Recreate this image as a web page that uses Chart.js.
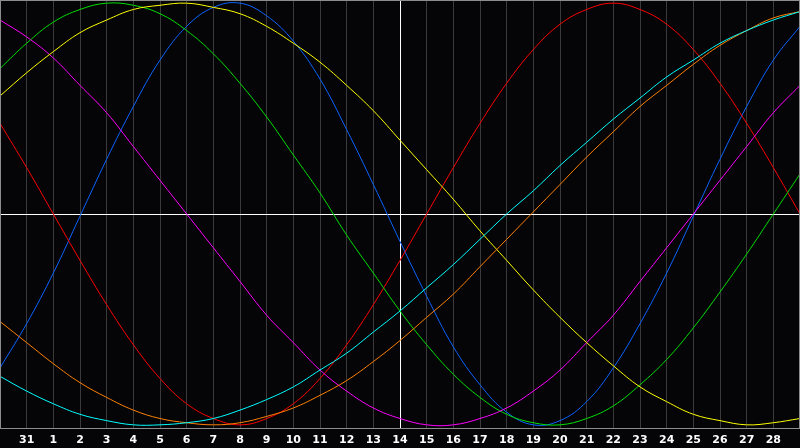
<!DOCTYPE html>
<html>
<head>
<meta charset="utf-8">
<style>
  html, body { margin: 0; padding: 0; background: #050508; }
  canvas { display: block; }
</style>
<script src="https://cdn.jsdelivr.net/npm/chart.js@4"></script>
</head>
<body>
<canvas id="bio" width="800" height="448"></canvas>
<script>
// days shown along the bottom (first and last sit on the frame edges)
const days = ['30', '31', '1', '2', '3', '4', '5', '6', '7', '8', '9', '10', '11', '12', '13', '14',
              '15', '16', '17', '18', '19', '20', '21', '22', '23', '24', '25', '26', '27', '28', '29'];

// cycle values in percent, one per day
const physical = [-73, -52, -28, -1, 26, 51, 73, 89, 98, 100, 94, 82, 64, 40, 14, -13,
                  -39, -63, -81, -94, -100, -98, -89, -73, -52, -28, -1, 26, 51, 73, 89];
const emotional = [43, 22, 0, -22, -43, -62, -78, -90, -97, -100, -97, -90, -78, -62, -43, -22,
                   0, 22, 43, 62, 78, 90, 97, 100, 97, 90, 78, 62, 43, 22, 0];
const intellectual = [69, 81, 91, 97, 100, 99, 95, 87, 76, 62, 46, 28, 10, -10, -28, -46,
                      -62, -76, -87, -95, -99, -100, -97, -91, -81, -69, -54, -37, -19, 0, 19];
const intuitive = [92, 84, 74, 61, 48, 32, 16, 0, -16, -32, -48, -61, -74, -84, -92, -97,
                   -100, -100, -97, -92, -84, -74, -61, -48, -32, -16, 0, 16, 32, 48, 61];
const aesthetic = [56, 67, 77, 86, 92, 97, 99, 100, 98, 95, 89, 81, 72, 61, 49, 35,
                   21, 7, -8, -22, -36, -49, -61, -72, -82, -89, -95, -98, -100, -99, -97];
const awareness = [-51, -61, -71, -80, -87, -93, -97, -99, -100, -99, -96, -92, -86, -79, -70, -60,
                   -49, -38, -25, -12, 1, 14, 27, 39, 51, 61, 71, 80, 87, 93, 96];
const spiritual = [-77, -84, -90, -95, -98, -100, -100, -99, -97, -93, -88, -82, -74, -66, -56, -46,
                   -35, -24, -12, 0, 11, 23, 34, 45, 55, 65, 73, 81, 87, 92, 96];

const todayIndex = 15;

document.addEventListener('DOMContentLoaded', function() {
    const ctx = document.getElementById('bio').getContext('2d');

    // first listed is drawn on top, so keep the long cycles last
    const series = [
        { data: spiritual, color: '#00ffff' },
        { data: awareness, color: '#ff8000' },
        { data: aesthetic, color: '#ffff00' },
        { data: intuitive, color: '#ff00ff' },
        { data: intellectual, color: '#00e000' },
        { data: emotional, color: '#ff0000' },
        { data: physical, color: '#0a64ff' }
    ];

    const frame = {
        id: 'frame',
        afterDraw(chart) {
            const a = chart.chartArea;
            const c = chart.ctx;
            c.save();
            c.strokeStyle = '#8c8c8c';
            c.lineWidth = 1;
            c.strokeRect(a.left + 0.5, a.top + 0.5, a.right - a.left - 1, a.bottom - a.top);
            c.restore();
        }
    };

    new Chart(ctx, {
        type: 'line',
        data: {
            labels: days,
            datasets: series.map(s => ({
                data: s.data,
                borderColor: s.color,
                borderWidth: 1,
                pointRadius: 0,
                fill: false,
                tension: 0.4
            }))
        },
        options: {
            responsive: false,
            animation: false,
            layout: { padding: 0 },
            plugins: { legend: { display: false }, tooltip: { enabled: false } },
            scales: {
                x: {
                    offset: false,
                    afterFit: axis => {
                        axis.height = 20;
                        axis.paddingLeft = 0;
                        axis.paddingRight = 0;
                    },
                    grid: {
                        drawTicks: false,
                        color: c => c.index === todayIndex ? '#ffffff' : '#3a3a3a'
                    },
                    border: { display: false },
                    ticks: {
                        autoSkip: false,
                        maxRotation: 0,
                        padding: 6,
                        color: '#ffffff',
                        font: { family: 'DejaVu Sans', size: 11, weight: 'bold' },
                        callback: function(v, i) {
                            return (i === 0 || i === days.length - 1) ? '' : days[i];
                        }
                    }
                },
                y: {
                    min: -101.5,
                    max: 101.5,
                    afterFit: axis => { axis.width = 0; },
                    afterBuildTicks: axis => { axis.ticks = [{ value: 0 }]; },
                    grid: { drawTicks: false, color: '#ffffff' },
                    border: { display: false },
                    ticks: { display: false }
                }
            }
        },
        plugins: [frame]
    });
});
</script>
</body>
</html>
